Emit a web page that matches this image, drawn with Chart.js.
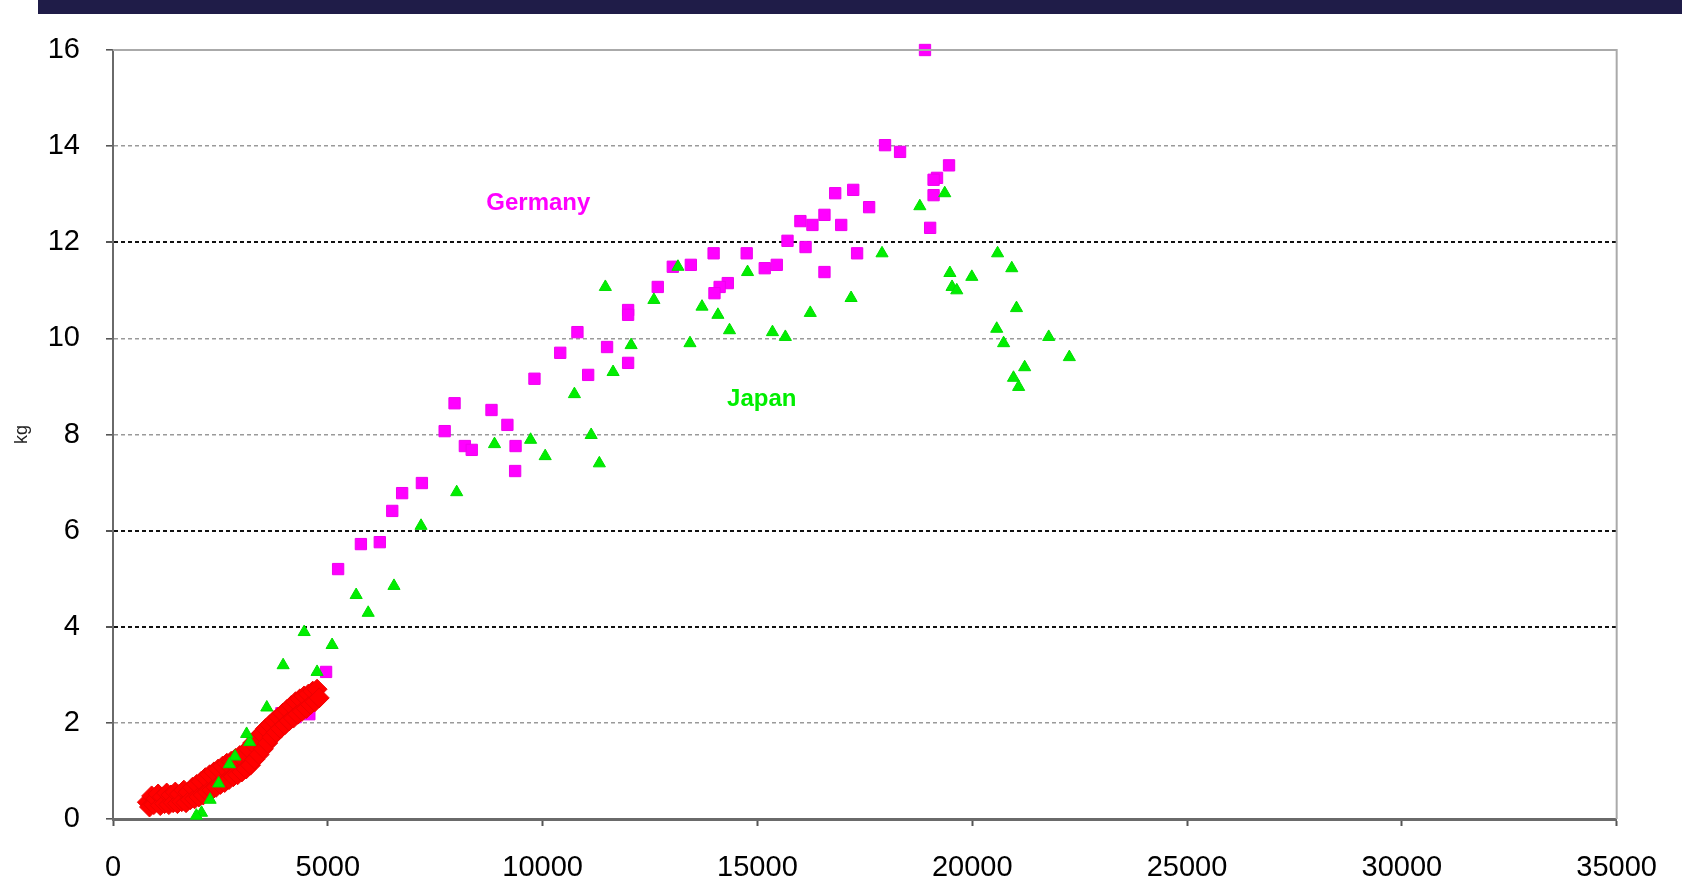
<!DOCTYPE html>
<html>
<head>
<meta charset="utf-8">
<script src="https://cdn.jsdelivr.net/npm/chart.js@4/dist/chart.umd.min.js"></script>
<style>
  html, body { margin: 0; padding: 0; background: #fff; }
  #wrap { position: relative; width: 1682px; height: 893px; }
  #topbar { position: absolute; left: 38px; top: 0; right: 0; height: 14px; background: #1f1c48; }
  #chart { position: absolute; left: 0; top: 0; }
</style>
</head>
<body>
<div id="wrap">
  <canvas id="chart" width="1682" height="893"></canvas>
  <div id="topbar"></div>
</div>
<script>
// Germany (magenta squares)
const germanyX = [18900, 17970, 18320, 19460, 19180, 19100, 19100, 19020, 17230, 16810, 17600, 16950,
    16560, 16280, 16000, 16120, 15700, 17320, 16560, 15450, 15170, 14750, 13980, 13450, 13030,
    12680, 14310, 14120, 14000, 11990, 11990, 10810, 11500, 10410, 11060, 11990, 9810, 7950,
    8810, 9180, 7720, 8190, 8350, 9370, 9360, 7190, 6730, 6500, 6210, 5770, 5240, 4960, 3920,
    4250, 4570];
const germanyY = [16.0, 14.02, 13.88, 13.6, 13.34, 13.3, 12.98, 12.3, 13.09, 13.02, 12.73, 12.36,
    12.57, 12.36, 12.44, 11.9, 12.03, 11.77, 11.38, 11.53, 11.46, 11.77, 11.77, 11.53, 11.49,
    11.07, 11.15, 11.07, 10.94, 10.59, 10.49, 10.13, 9.82, 9.7, 9.24, 9.49, 9.16, 8.65,
    8.51, 8.2, 8.07, 7.76, 7.68, 7.76, 7.24, 6.99, 6.78, 6.41, 5.76, 5.72, 5.2, 3.06, 2.2,
    2.12, 2.18];

// Japan (green triangles)
const japanX = [18780, 19360, 17900, 17180, 20590, 20920, 19480, 19530, 19640, 19990, 21030, 21780,
    20570, 20730, 21220, 20960, 21080, 22260, 16230, 15350, 15650, 14770, 14350, 14080, 13710,
    13430, 13150, 12590, 12060, 11640, 11460, 10740, 11130, 11320, 10060, 9720, 8880, 8000,
    7170, 6540, 5940, 5660, 5100, 4750, 4450, 3960, 3580, 3180, 3110, 2840, 2710, 2460, 2260,
    2060, 1940];
const japanY = [12.75, 13.02, 11.77, 10.84, 11.77, 11.46, 11.36, 11.07, 11.0, 11.28, 10.63, 10.03,
    10.2, 9.9, 9.4, 9.18, 8.99, 9.61, 10.53, 10.13, 10.03, 11.38, 10.17, 10.49, 10.66,
    9.9, 11.49, 10.8, 9.86, 9.3, 11.07, 8.84, 7.99, 7.4, 7.55, 7.89, 7.8, 6.8,
    6.1, 4.85, 4.29, 4.66, 3.62, 3.06, 3.89, 3.2, 2.32, 1.6, 1.77, 1.3, 1.14, 0.74, 0.4,
    0.13, 0.07];

// third economy (red diamonds, a dense band)
const redX = [800, 850, 900, 950, 1000, 1050, 1100, 1150, 1200, 1250, 1300, 1350, 1400, 1450, 1500,
    1550, 1600, 1650, 1700, 1750, 1800, 1850, 1900, 1950, 2000, 2050, 2100, 2150, 2200, 2250,
    2300, 2350, 2400, 2450, 2500, 2550, 2600, 2650, 2700, 2750, 2800, 2850, 2900, 2950, 3000,
    3050, 3100, 3150, 3200, 3250, 3300, 3350, 3400, 3450, 3500, 3550, 3600, 3650, 3700, 3750,
    3800, 3850, 3900, 3950, 4000, 4050, 4100, 4150, 4200, 4250, 4300, 4350, 4400, 4450, 4500,
    4550, 4600, 4650, 4700, 4750, 4800];
const redY = [0.35, 0.25, 0.48, 0.3, 0.42, 0.52, 0.28, 0.46, 0.32, 0.54, 0.3, 0.5, 0.34, 0.56, 0.32,
    0.52, 0.36, 0.6, 0.34, 0.56, 0.4, 0.66, 0.42, 0.72, 0.46, 0.78, 0.5, 0.86, 0.56, 0.92,
    0.6, 0.98, 0.66, 1.04, 0.72, 1.1, 0.76, 1.16, 0.82, 1.2, 0.88, 1.26, 0.92, 1.32, 0.98,
    1.38, 1.04, 1.46, 1.12, 1.58, 1.24, 1.68, 1.34, 1.78, 1.46, 1.88, 1.58, 1.96, 1.7, 2.05,
    1.8, 2.12, 1.88, 2.2, 1.96, 2.28, 2.04, 2.36, 2.1, 2.44, 2.18, 2.5, 2.24, 2.56, 2.3,
    2.6, 2.38, 2.66, 2.44, 2.7, 2.52];

const xTicks = [0, 5000, 10000, 15000, 20000, 25000, 30000, 35000];
const yTicks = [0, 2, 4, 6, 8, 10, 12, 14, 16];
const yTitle = "kg";

// where the series names sit, in data units
const seriesLabels = [
    { text: "Germany", x: 9900, y: 12.8, color: "#ff00ff" },
    { text: "Japan", x: 15100, y: 8.74, color: "#00ee00" }
];

function toPoints(xs, ys) {
    return xs.map((x, i) => ({ x: x, y: ys[i] }));
}

// y grid: some lines come out black, some grey in the original
const darkLines = [4, 6, 12];

const frameAndLabels = {
    id: "frameAndLabels",
    afterDatasetsDraw(chart) {
        const ctx = chart.ctx;
        const a = chart.chartArea;
        ctx.save();
        ctx.strokeStyle = "#aaaaaa";
        ctx.lineWidth = 2;
        ctx.beginPath();
        ctx.moveTo(a.left, a.top);
        ctx.lineTo(a.right, a.top);
        ctx.lineTo(a.right, a.bottom);
        ctx.stroke();
        ctx.font = "bold 24px 'Liberation Sans', Arial, sans-serif";
        ctx.textAlign = "center";
        ctx.textBaseline = "middle";
        seriesLabels.forEach(l => {
            ctx.fillStyle = l.color;
            ctx.fillText(l.text, chart.scales.x.getPixelForValue(l.x), chart.scales.y.getPixelForValue(l.y));
        });
        ctx.restore();
    }
};

const tickFont = { family: "'Liberation Sans', Arial, sans-serif", size: 29 };

const config = {
    type: "scatter",
    data: {
        datasets: [
            {
                label: "Japan",
                data: toPoints(japanX, japanY),
                pointStyle: "triangle",
                pointRadius: 7,
                backgroundColor: "#00ee00",
                borderColor: "#00dd00",
                borderWidth: 1,
                clip: false
            },
            {
                label: "Other",
                data: toPoints(redX, redY),
                pointStyle: "rectRot",
                pointRadius: 10,
                backgroundColor: "#ff0000",
                borderColor: "#ee0000",
                borderWidth: 1,
                clip: false
            },
            {
                label: "Germany",
                data: toPoints(germanyX, germanyY),
                pointStyle: "rect",
                pointRadius: 8,
                backgroundColor: "#ff00ff",
                borderColor: "#ee00ee",
                borderWidth: 1,
                clip: false
            }
        ]
    },
    options: {
        responsive: false,
        animation: false,
        devicePixelRatio: 1,
        layout: { padding: { left: 0, top: 50, right: 60, bottom: 0 } },
        plugins: {
            legend: { display: false },
            tooltip: { enabled: false }
        },
        scales: {
            x: {
                type: "linear",
                min: 0,
                max: 35000,
                afterFit: s => { s.height = 74; },
                afterBuildTicks: s => { s.ticks = xTicks.map(v => ({ value: v })); },
                ticks: {
                    color: "#000",
                    font: tickFont,
                    padding: 25,
                    maxRotation: 0,
                    callback: v => String(v)
                },
                grid: {
                    drawOnChartArea: false,
                    drawTicks: true,
                    tickLength: 7,
                    tickColor: "#555",
                    tickWidth: 2
                },
                border: { color: "#6a6a6a", width: 3 }
            },
            y: {
                type: "linear",
                min: 0,
                max: 16,
                afterFit: s => { s.width = 113; },
                afterBuildTicks: s => { s.ticks = yTicks.map(v => ({ value: v })); },
                ticks: { color: "#000", font: tickFont, padding: 26, callback: v => String(v) },
                title: {
                    display: true,
                    text: yTitle,
                    color: "#222",
                    font: { family: "'Liberation Sans', Arial, sans-serif", size: 18 },
                    padding: { top: 11, bottom: 0 }
                },
                grid: {
                    drawTicks: true,
                    tickLength: 7,
                    tickColor: "#555",
                    color: c => {
                        const v = c.tick ? c.tick.value : null;
                        if (v === 0 || v === 16) return "rgba(0,0,0,0)";
                        return darkLines.includes(v) ? "#111" : "#9a9a9a";
                    },
                    lineWidth: c => (c.tick && darkLines.includes(c.tick.value) ? 2 : 1.6)
                },
                border: { color: "#6a6a6a", width: 2, dash: [4, 3] }
            }
        }
    },
    plugins: [frameAndLabels]
};

const myChart = new Chart(document.getElementById("chart"), config);
</script>
</body>
</html>
